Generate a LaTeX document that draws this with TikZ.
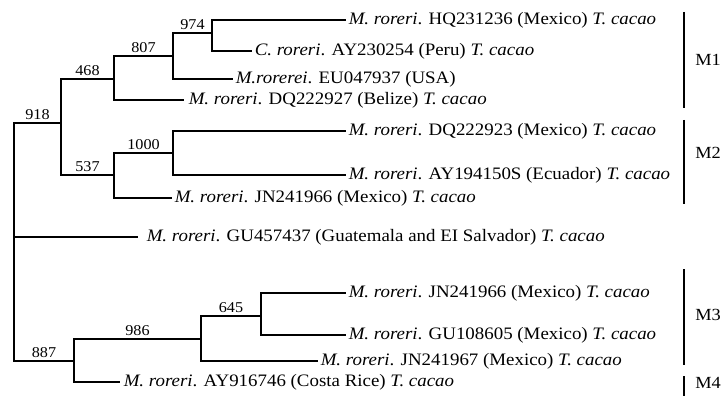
\documentclass[tikz,border=0pt]{standalone}
\usepackage{fontspec}
\setmainfont[FakeStretch=1.08]{Liberation Serif}
\newcommand{\mrr}{\textit{M. roreri}.}
\newcommand{\tcc}{\textit{T. cacao}}
\begin{document}
\begin{tikzpicture}[x=1pt,y=-1pt,line width=1.5pt,
  leaf/.style={anchor=west,inner sep=2pt,font=\fontsize{17.5}{19}\selectfont},
  boot/.style={above,inner sep=2.5pt,font=\fontsize{15}{17}\selectfont},
  grp/.style={font=\fontsize{17}{19}\selectfont}]
  \useasboundingbox (0,0) rectangle (724,396);
  \coordinate (root) at (14,237);
  \coordinate (n918) at (61,123);
  \coordinate (n468) at (114,79);
  \coordinate (n807) at (173,56);
  \coordinate (n974) at (212,33);
  \coordinate (n537) at (114,175);
  \coordinate (n1000) at (173,153);
  \coordinate (n887) at (74,361);
  \coordinate (n986) at (201,339);
  \coordinate (n645) at (261,316);
  \node[leaf] (hq) at (346,20) {\mrr{} HQ231236 (Mexico) \tcc};
  \node[leaf] (cr) at (252,51) {\textit{C. roreri}. AY230254 (Peru) \tcc};
  \node[leaf] (eu) at (233,79) {\textit{M.rorerei}. EU047937 (USA)};
  \node[leaf,inner xsep=4pt] (dq927) at (184,100) {\mrr{} DQ222927 (Belize) \tcc};
  \node[leaf] (dq923) at (346,131) {\mrr{} DQ222923 (Mexico) \tcc};
  \node[leaf] (ay150) at (346,175) {\mrr{} AY194150S (Ecuador) \tcc};
  \node[leaf] (jn966a) at (172,198) {\mrr{} JN241966 (Mexico) \tcc};
  \node[leaf,inner xsep=8pt] (gu437) at (138,237) {\mrr{} GU457437 (Guatemala and EI Salvador) \tcc};
  \node[leaf] (jn966b) at (346,293) {\mrr{} JN241966 (Mexico) \tcc};
  \node[leaf] (gu605) at (346,335) {\mrr{} GU108605 (Mexico) \tcc};
  \node[leaf] (jn967) at (318,361) {\mrr{} JN241967 (Mexico) \tcc};
  \node[leaf,inner xsep=3pt] (ay746) at (120,382) {\mrr{} AY916746 (Costa Rice) \tcc};
  \draw (root) |- node[boot,pos=0.75] {918} (n918);
  \draw (root) |- node[boot,pos=0.75] {887} (n887);
  \draw (root) -- (gu437);
  \draw (n918) |- node[boot,pos=0.75] {468} (n468);
  \draw (n918) |- node[boot,pos=0.75] {537} (n537);
  \draw (n468) |- node[boot,pos=0.75] {807} (n807);
  \draw (n468) |- (dq927);
  \draw (n807) |- node[boot,pos=0.75] {974} (n974);
  \draw (n807) |- (eu);
  \draw (n974) |- (hq);
  \draw (n974) |- (cr);
  \draw (n537) |- node[boot,pos=0.75] {1000} (n1000);
  \draw (n537) |- (jn966a);
  \draw (n1000) |- (dq923);
  \draw (n1000) |- (ay150);
  \draw (n887) |- node[boot,pos=0.75] {986} (n986);
  \draw (n887) |- (ay746);
  \draw (n986) |- node[boot,pos=0.75] {645} (n645);
  \draw (n986) |- (jn967);
  \draw (n645) |- (jn966b);
  \draw (n645) |- (gu605);
  \draw[line width=1.8pt] (684,12) -- (684,108);
  \draw[line width=1.8pt] (684,120) -- (684,204);
  \draw[line width=1.8pt] (684,269) -- (684,365);
  \draw[line width=1.8pt] (684,376) -- (684,396);
  \node[grp] (m1) at (708,60) {M1};
  \node[grp] (m2) at (708,153) {M2};
  \node[grp] (m3) at (708,315) {M3};
  \node[grp] (m4) at (708,383) {M4};
\end{tikzpicture}
\end{document}
